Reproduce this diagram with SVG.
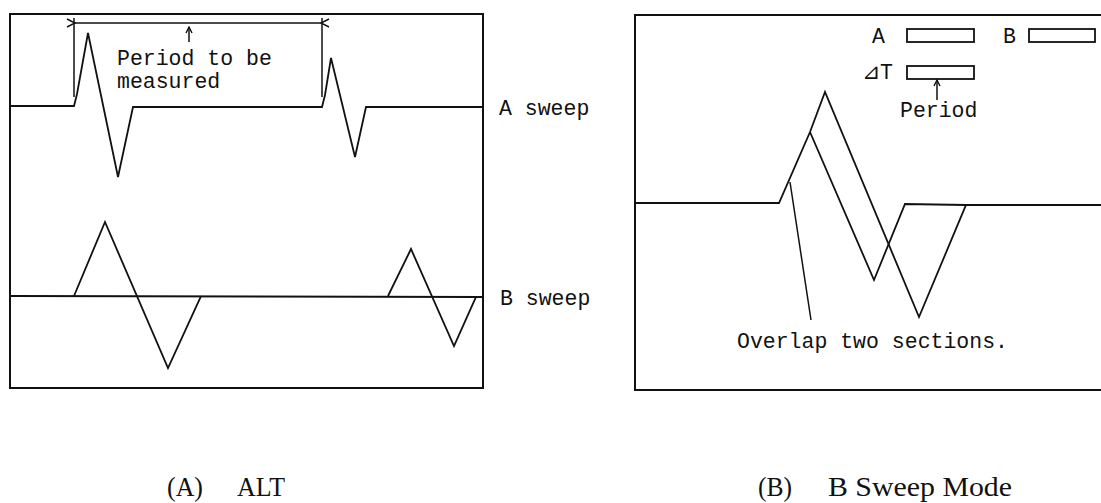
<svg xmlns="http://www.w3.org/2000/svg" width="1101" height="503" viewBox="0 0 1101 503">
<style>
.frame{fill:none;stroke:#111;stroke-width:2}
.wave{fill:none;stroke:#111;stroke-width:1.8;stroke-linejoin:miter}
.thin{fill:none;stroke:#111;stroke-width:1.5}
.mono{font-family:"Liberation Mono","DejaVu Sans Mono",monospace;font-size:21.5px;fill:#111}
.cap{font-family:"Liberation Serif","DejaVu Serif",serif;font-size:27px;fill:#111}
.box{fill:#fff;stroke:#111;stroke-width:1.8}
</style>
<defs>
<marker id="open" viewBox="-1 -5 10 10" refX="0" refY="0" markerWidth="10" markerHeight="10" markerUnits="userSpaceOnUse" orient="auto-start-reverse">
<path d="M8,-4 L0,0 L8,4" fill="none" stroke="#111" stroke-width="1.4"/>
</marker>
<marker id="up" viewBox="-5 -1 10 10" refX="0" refY="0" markerWidth="10" markerHeight="10" markerUnits="userSpaceOnUse" orient="0">
<path d="M-3,6 L0,0 L3,6" fill="none" stroke="#111" stroke-width="1.4"/>
</marker>
</defs>
<rect width="1101" height="503" fill="#fff"/>

<g id="panel-alt">
<rect class="frame" x="10" y="14" width="473" height="374"/>
</g>
<g id="panel-bsweep">
<path class="frame" d="M1101,15 H635 V390 H1101"/>
</g>

<g id="a-sweep">
<polyline class="wave" points="10,106 74,106 77,94 88,33 118,177 133,107 322,107 325,95 331,58 355,157 366,107 483,107"/>
<text class="mono" x="499" y="115">A sweep</text>
</g>

<g id="b-sweep">
<line class="wave" x1="10" y1="296" x2="483" y2="297"/>
<polyline class="wave" points="74,296 105,222 168,368 201,296"/>
<polyline class="wave" points="388,296 411,249 454,346 476,297 483,297"/>
<text class="mono" x="500" y="305">B sweep</text>
</g>

<g id="period-label">
<text class="mono" x="117" y="65">Period to be</text>
<text class="mono" x="117" y="88">measured</text>
</g>

<g id="b-mode-waves">
<polyline class="wave" points="635,203 779,203 810,132 825,92 919,317 966,205 1101,205"/>
<polyline class="wave" points="810,132 874,280 905,204 966,205"/>
</g>

<g id="readout">
<text class="mono" x="872" y="43">A</text>
<rect class="box" x="907" y="29" width="67" height="13"/>
<text class="mono" x="1003" y="43">B</text>
<rect class="box" x="1029" y="29" width="66" height="13"/>
<text class="mono" x="862" y="79">⊿T</text>
<rect class="box" x="907" y="66" width="67" height="13"/>
<text class="mono" x="900" y="117">Period</text>
</g>

<g id="overlap-label">
<text class="mono" x="737" y="348">Overlap two sections.</text>
</g>

<g id="connectors">
<line class="thin" x1="74" y1="18" x2="74" y2="97"/>
<line class="thin" x1="322" y1="18" x2="322" y2="97"/>
<line class="thin" x1="75" y1="23" x2="321" y2="23" marker-start="url(#open)" marker-end="url(#open)"/>
<line class="thin" x1="189" y1="42" x2="189" y2="27" marker-end="url(#up)"/>
<line class="thin" x1="937" y1="100" x2="937" y2="80" marker-end="url(#up)"/>
<line class="thin" x1="790" y1="182" x2="811" y2="320"/>
</g>

<g id="captions">
<text class="cap" x="167" y="496" textLength="36" lengthAdjust="spacingAndGlyphs">(A)</text>
<text class="cap" x="237" y="496" textLength="48" lengthAdjust="spacingAndGlyphs">ALT</text>
<text class="cap" x="758" y="496" textLength="34" lengthAdjust="spacingAndGlyphs">(B)</text>
<text class="cap" x="828" y="496" textLength="184" lengthAdjust="spacingAndGlyphs">B Sweep Mode</text>
</g>
</svg>
